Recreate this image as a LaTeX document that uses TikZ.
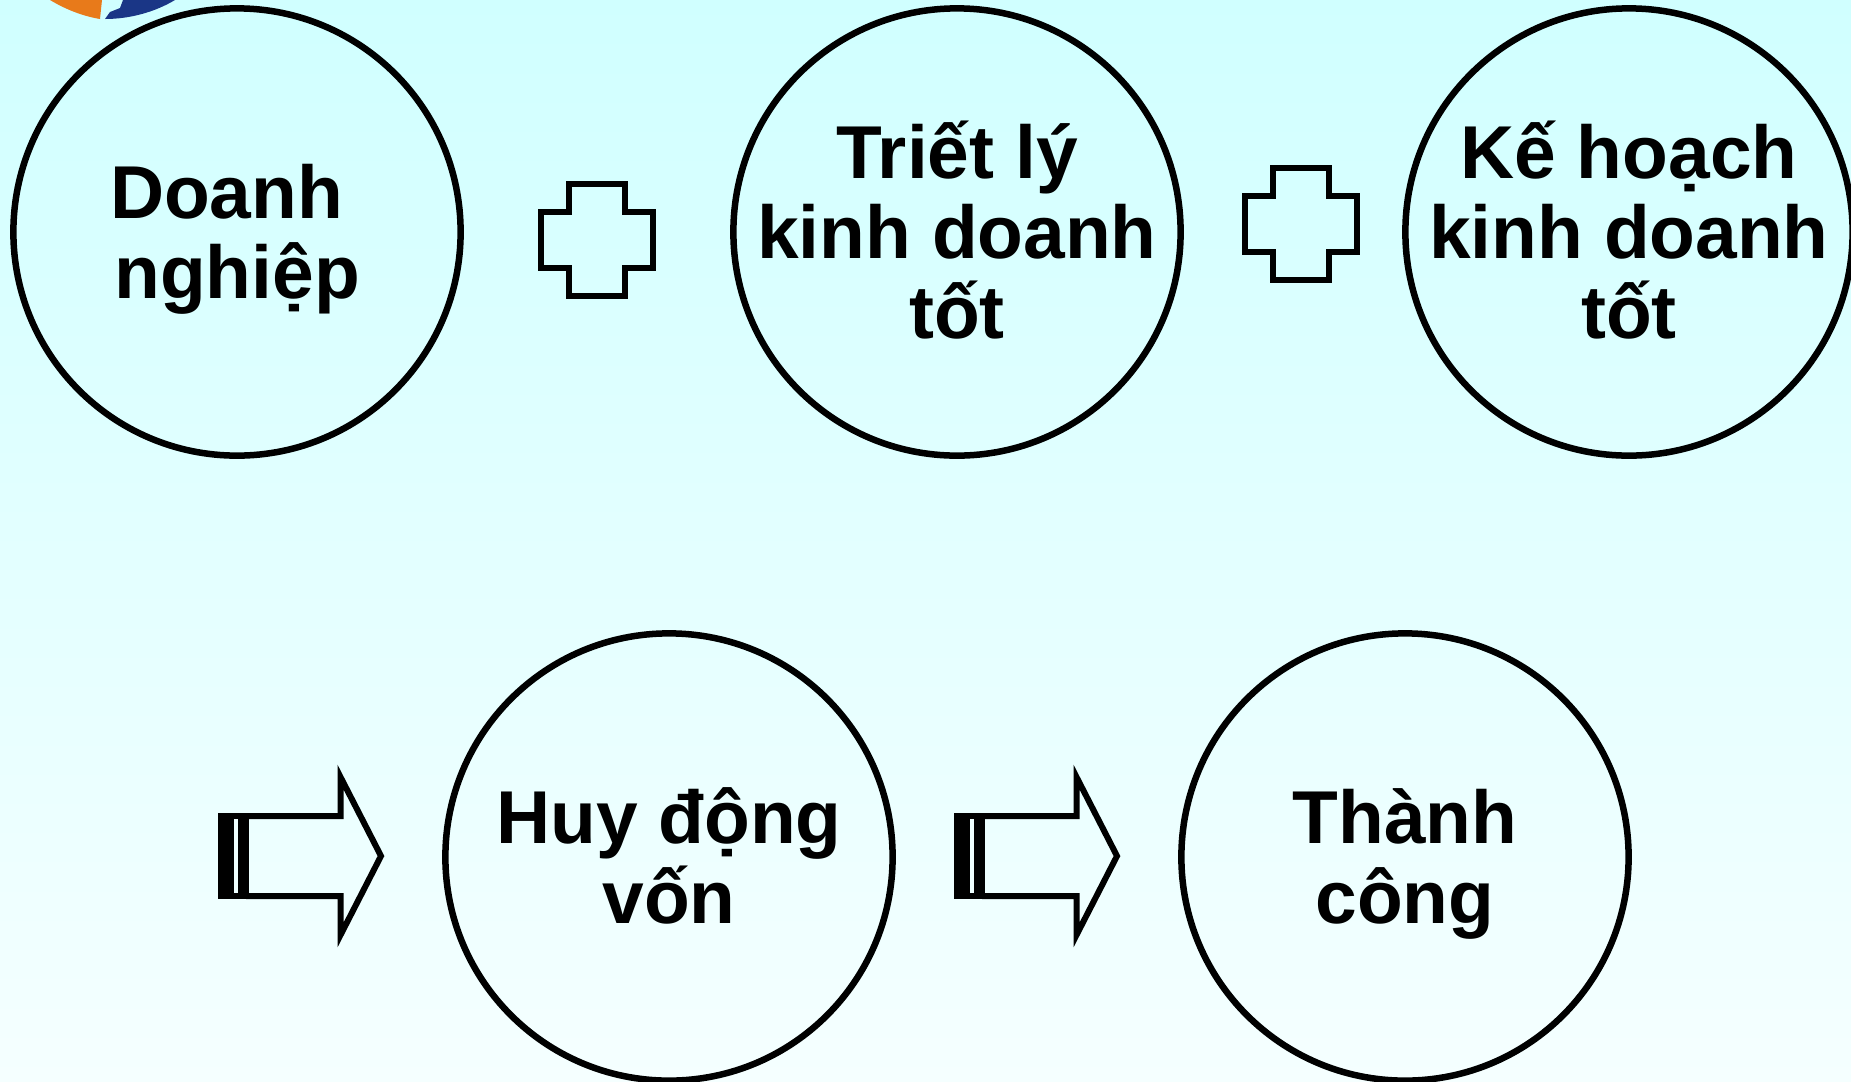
\documentclass[tikz,border=0pt]{standalone}
\usepackage{fontspec}
\setmainfont{Liberation Sans}
\definecolor{skytop}{RGB}{208,255,255}
\definecolor{skybottom}{RGB}{245,255,255}
\definecolor{slitcolor}{RGB}{238,255,255}
\definecolor{logoorange}{RGB}{232,122,26}
\definecolor{logoblue}{RGB}{26,54,134}
\newcommand{\linetop}{\rule{0pt}{.927em}}
\newcommand{\linebottom}{\rule[-.22em]{0pt}{0pt}}
\tikzset{
  bubble/.style = {circle, draw, line width = 0.065cm, minimum size = 4.47cm, inner sep = -0.5cm,
    align = center, font = \fontsize{21.3pt}{22.8pt}\selectfont\bfseries},
  thickline/.style = {line width = 0.06cm, miter limit = 10},
}
\begin{document}
\begin{tikzpicture}[x = 0.01cm, y = -0.01cm]
  \def \rowone {232};
  \def \rowtwo {857};
  \useasboundingbox (0, 0) rectangle (1851, 1081);

  % Draw background.
  \shade [top color = skytop, bottom color = skybottom] (0, 0) rectangle (1851, 1081);

  % Draw logo cut off at the top.
  \fill [logoorange] (50, 0) .. controls (65, 9) and (82, 16) .. (100, 19) -- (102, 0) -- cycle;
  \fill [logoblue] (105, 19) .. controls (130, 19) and (155, 12) .. (175, 0) -- (123, 0)
    -- (120, 8) -- (110, 12) -- cycle;

  % Draw circles.
  \node [bubble] (firm) at (237, \rowone) {\linetop Doanh\hspace*{.278em}\\nghiệp\linebottom};
  \node [bubble] (philosophy) at (957, \rowone) {\linetop Triết lý\\kinh doanh\\tốt\linebottom};
  \node [bubble] (plan) at (1629, \rowone) {\linetop Kế hoạch\\kinh doanh\\tốt\linebottom};
  \node [bubble] (funding) at (669, \rowtwo) {\linetop Huy động\\vốn\linebottom};
  \node [bubble] (success) at (1405, \rowtwo) {\linetop Thành\\công\linebottom};

  % Draw plus signs.
  \foreach \x/\y in {597/240, 1301/224} {
    \draw [thickline] ({\x - 28}, {\y - 56}) -- ({\x + 28}, {\y - 56}) -- ({\x + 28}, {\y - 28})
      -- ({\x + 56}, {\y - 28}) -- ({\x + 56}, {\y + 28}) -- ({\x + 28}, {\y + 28})
      -- ({\x + 28}, {\y + 56}) -- ({\x - 28}, {\y + 56}) -- ({\x - 28}, {\y + 28})
      -- ({\x - 56}, {\y + 28}) -- ({\x - 56}, {\y - 28}) -- ({\x - 28}, {\y - 28}) -- cycle;
  };

  % Draw striped arrows.
  \foreach \x in {218, 954} {
    \draw [thickline] ({\x + 28}, 816) -- ({\x + 122.5}, 816) -- ({\x + 122.5}, 777)
      -- ({\x + 163}, {\rowtwo - 1}) -- ({\x + 122.5}, 935) -- ({\x + 122.5}, 896) -- ({\x + 28}, 896);
    \fill [black] (\x, 813) rectangle ({\x + 31}, 899);
    \fill [slitcolor] ({\x + 16}, 819) rectangle ({\x + 20}, 893);
  };
\end{tikzpicture}
\end{document}
